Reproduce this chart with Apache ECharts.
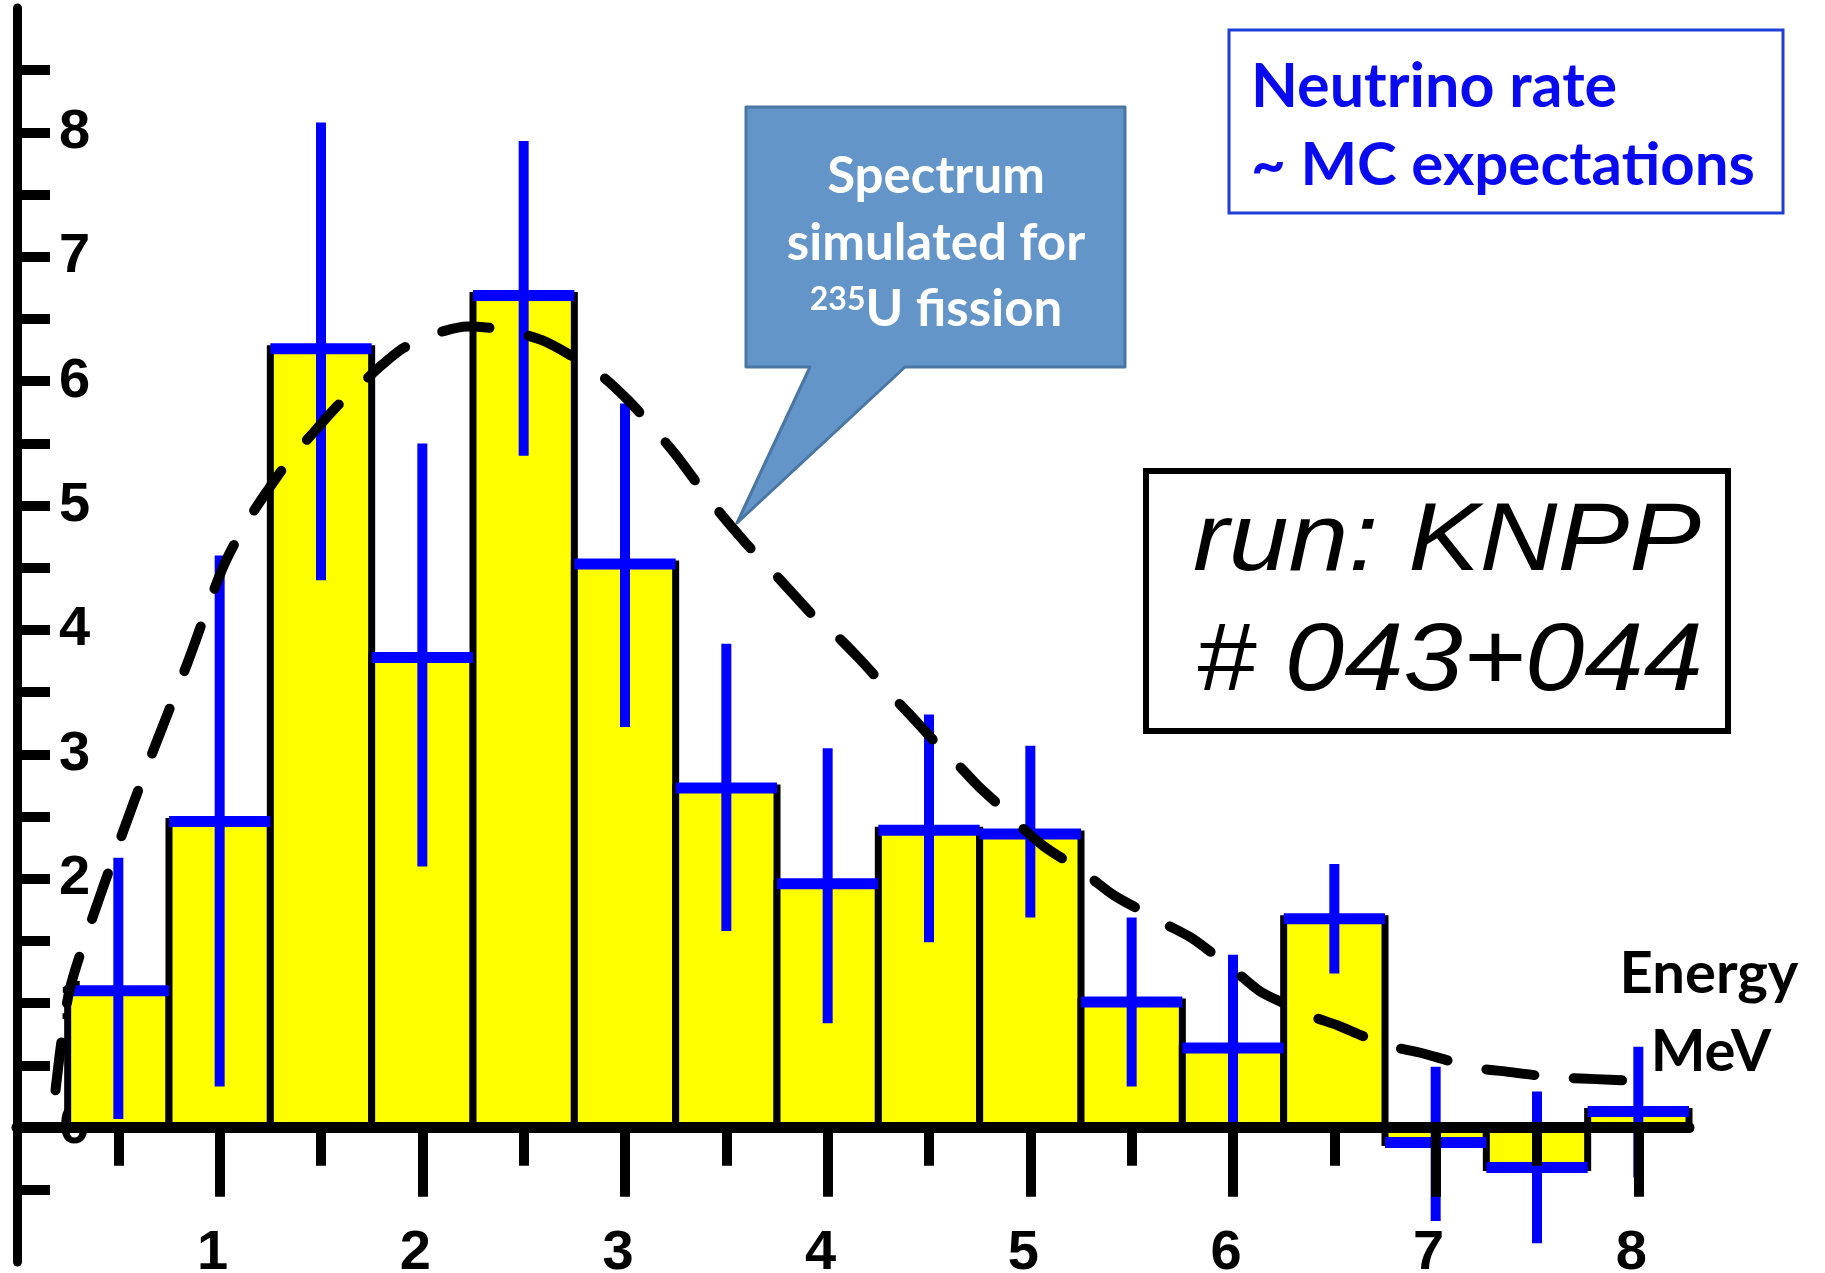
<!DOCTYPE html>
<html>
<head>
<meta charset="utf-8">
<script src="https://cdn.jsdelivr.net/npm/echarts@6/dist/echarts.min.js"></script>
<style>
  html, body { margin: 0; padding: 0; background: #ffffff; }
  #chart { width: 1825px; height: 1273px; }
</style>
</head>
<body>
<div id="chart"></div>
<script>
// Measured spectrum: 0.5 MeV bins, centre energy of each bin
const binCenters = [0.5, 1.0, 1.5, 2.0, 2.5, 3.0, 3.5, 4.0, 4.5, 5.0, 5.5, 6.0, 6.5, 7.0, 7.5, 8.0];
const rates      = [1.10, 2.46, 6.26, 3.78, 6.69, 4.53, 2.73, 1.96, 2.39, 2.36, 1.01, 0.64, 1.68, -0.12, -0.32, 0.13];
const errHigh    = [2.17, 4.60, 8.08, 5.50, 7.93, 5.82, 3.89, 3.05, 3.32, 3.07, 1.69, 1.39, 2.12, 0.49, 0.29, 0.65];
const errLow     = [0.07, 0.33, 4.40, 2.10, 5.40, 3.22, 1.58, 0.84, 1.49, 1.69, 0.33, 0.00, 1.24, -0.75, -0.93, -0.40];
const binHalfWidth = 0.25;

// Simulated 235U fission spectrum (dashed curve)
const mcEnergy = [0.19, 0.22, 0.26, 0.35, 0.49, 0.66, 0.84, 1.01, 1.12, 1.24, 1.35, 1.47, 1.58, 1.70, 1.80, 1.90,
                  2.00, 2.10, 2.22, 2.33, 2.44, 2.59, 2.73, 2.88, 3.02, 3.13, 3.25, 3.42, 3.59, 3.74, 3.88, 3.95,
                  4.04, 4.15, 4.24, 4.33, 4.44, 4.53, 4.63, 4.74, 4.84, 4.94, 5.06, 5.17, 5.28, 5.41, 5.53, 5.65,
                  5.79, 5.90, 6.01, 6.13, 6.25, 6.38, 6.52, 6.65, 6.79, 6.93, 7.06, 7.20, 7.35, 7.50, 7.65, 7.79,
                  7.93, 8.06];
const mcRate   = [0.30, 0.70, 1.11, 1.58, 2.23, 2.98, 3.73, 4.48, 4.83, 5.13, 5.38, 5.60, 5.80, 5.98, 6.13, 6.26,
                  6.34, 6.40, 6.44, 6.43, 6.40, 6.33, 6.21, 6.05, 5.84, 5.64, 5.41, 5.04, 4.71, 4.45, 4.20, 4.08,
                  3.96, 3.78, 3.62, 3.45, 3.26, 3.10, 2.94, 2.75, 2.60, 2.44, 2.27, 2.15, 2.03, 1.87, 1.76, 1.65,
                  1.53, 1.40, 1.26, 1.10, 1.00, 0.90, 0.82, 0.73, 0.65, 0.60, 0.54, 0.48, 0.45, 0.42, 0.40, 0.39,
                  0.38, 0.37];

// Axis ticks and labels
const xTickValues      = [1, 2, 3, 4, 5, 6, 7, 8];
const xMinorTickValues = [0.5, 1.5, 2.5, 3.5, 4.5, 5.5, 6.5, 7.5];
const yLabelValues     = [0, 1, 2, 3, 4, 5, 6, 7, 8];
const yTickValues      = [-0.5, 0, 0.5, 1, 1.5, 2, 2.5, 3, 3.5, 4, 4.5, 5, 5.5, 6, 6.5, 7, 7.5, 8, 8.5];

const chart = echarts.init(document.getElementById('chart'), null, { renderer: 'canvas' });

const tickFont = { fontFamily: 'Liberation Sans, Arial, sans-serif', fontSize: 56, fontWeight: 'bold', color: '#000' };
const calloutFont = 'Lato, "Open Sans", sans-serif';

chart.setOption({
  animation: false,
  backgroundColor: '#ffffff',
  grid: { left: 17, right: 136, top: 8, bottom: 11, containLabel: false, outerBoundsMode: 'none' },
  xAxis: [
    {
      type: 'value', min: 0, max: 8.25, position: 'bottom', z: 5,
      axisLine: { show: true, onZero: true, onZeroAxisIndex: 0, lineStyle: { color: '#000', width: 11 } },
      axisTick: { show: true, customValues: xTickValues, length: 69, lineStyle: { color: '#000', width: 10 } },
      // labels sit just above the lower edge of the plotting area
      axisLabel: Object.assign({
        show: true, customValues: xTickValues, margin: -8, verticalAlign: 'middle', lineHeight: 44,
        padding: [0, 14, 0, 0]
      }, tickFont),
      splitLine: { show: false }
    },
    {
      type: 'value', min: 0, max: 8.25, position: 'bottom', z: 5,
      axisLine: { show: false, onZero: true, onZeroAxisIndex: 0 },
      axisTick: { show: true, customValues: xMinorTickValues, length: 38, lineStyle: { color: '#000', width: 10 } },
      axisLabel: { show: false },
      splitLine: { show: false }
    }
  ],
  yAxis: {
    type: 'value', min: -1.08, max: 9.0, z: 0,
    axisLine: { show: true, onZero: false, lineStyle: { color: '#000', width: 9 } },
    axisTick: { show: true, inside: true, customValues: yTickValues, length: 33, lineStyle: { color: '#000', width: 10 } },
    axisLabel: Object.assign({ show: true, inside: true, customValues: yLabelValues, margin: 42 }, tickFont),
    splitLine: { show: false }
  },
  series: [
    {
      // histogram bins
      type: 'custom', z: 2,
      data: binCenters.map((c, i) => [c, rates[i]]),
      encode: { x: 0, y: 1 },
      renderItem: function (params, api) {
        const c = api.value(0), v = api.value(1);
        const a = api.coord([c - binHalfWidth, 0]);
        const b = api.coord([c + binHalfWidth, v]);
        return {
          type: 'rect',
          shape: { x: a[0], y: Math.min(a[1], b[1]), width: b[0] - a[0], height: Math.abs(b[1] - a[1]) },
          style: { fill: '#ffff00', stroke: '#000000', lineWidth: 7 }
        };
      }
    },
    {
      // statistical error crosses
      type: 'custom', z: 3,
      data: binCenters.map((c, i) => [c, rates[i], errLow[i], errHigh[i]]),
      encode: { x: 0, y: [1, 2, 3] },
      renderItem: function (params, api) {
        const c = api.value(0), v = api.value(1), lo = api.value(2), hi = api.value(3);
        const top = api.coord([c, hi]);
        const bot = api.coord([c, lo]);
        const left = api.coord([c - binHalfWidth, v]);
        const right = api.coord([c + binHalfWidth, v]);
        return {
          type: 'group',
          children: [
            { type: 'line', shape: { x1: top[0], y1: top[1], x2: bot[0], y2: bot[1] },
              style: { stroke: '#0000ff', lineWidth: 10 } },
            { type: 'line', shape: { x1: left[0], y1: left[1], x2: right[0], y2: right[1] },
              style: { stroke: '#0000ff', lineWidth: 11 } }
          ]
        };
      }
    },
    {
      // simulated spectrum
      type: 'line', z: 4,
      data: mcEnergy.map((e, i) => [e, mcRate[i]]),
      smooth: 0.3,
      showSymbol: false, symbol: 'none',
      lineStyle: { color: '#000000', width: 10, type: [48, 40], cap: 'round', join: 'round' }
    }
  ],
  graphic: [
    {
      // callout bubble pointing at the curve
      type: 'polygon', z: 6,
      shape: { points: [[746, 107], [1125, 107], [1125, 367], [905, 367], [737, 523], [810, 367], [746, 367]] },
      style: { fill: '#6395c9', stroke: '#4a76a3', lineWidth: 3, lineJoin: 'round' }
    },
    {
      type: 'text', z: 7, x: 936, y: 177,
      style: { text: 'Spectrum', fill: '#ffffff', fontFamily: calloutFont, fontWeight: 'bold', fontSize: 51, align: 'center', verticalAlign: 'middle' }
    },
    {
      type: 'text', z: 7, x: 936, y: 244,
      style: { text: 'simulated for', fill: '#ffffff', fontFamily: calloutFont, fontWeight: 'bold', fontSize: 51, align: 'center', verticalAlign: 'middle' }
    },
    {
      type: 'text', z: 7, x: 936, y: 310,
      style: {
        text: '{sup|235}{main|U fission}', align: 'center', verticalAlign: 'middle',
        rich: {
          sup:  { fill: '#ffffff', fontFamily: calloutFont, fontWeight: 'bold', fontSize: 32, lineHeight: 52, verticalAlign: 'top' },
          main: { fill: '#ffffff', fontFamily: calloutFont, fontWeight: 'bold', fontSize: 51, lineHeight: 52 }
        }
      }
    },
    {
      // headline box
      type: 'rect', z: 6,
      shape: { x: 1229, y: 30, width: 554, height: 183 },
      style: { fill: '#ffffff', stroke: '#1f3ed6', lineWidth: 3 }
    },
    {
      type: 'text', z: 7, x: 1251, y: 87,
      style: { text: 'Neutrino rate', fill: '#0a0aee', fontFamily: calloutFont, fontWeight: 'bold', fontSize: 61, align: 'left', verticalAlign: 'middle' }
    },
    {
      type: 'text', z: 7, x: 1251, y: 166,
      style: { text: '~ MC expectations', fill: '#0a0aee', fontFamily: calloutFont, fontWeight: 'bold', fontSize: 60, align: 'left', verticalAlign: 'middle' }
    },
    {
      // run identifier box
      type: 'rect', z: 6,
      shape: { x: 1146, y: 471, width: 582, height: 260 },
      style: { fill: '#ffffff', stroke: '#000000', lineWidth: 6 }
    },
    {
      type: 'text', z: 7, x: 1193, y: 543, scaleX: 1.12, originX: 0, originY: 0,
      style: { text: 'run: KNPP', fill: '#000000', fontFamily: 'Liberation Sans, Arial, sans-serif', fontStyle: 'italic', fontSize: 96, align: 'left', verticalAlign: 'middle' }
    },
    {
      type: 'text', z: 7, x: 1196, y: 663, scaleX: 1.11, originX: 0, originY: 0,
      style: { text: '# 043+044', fill: '#000000', fontFamily: 'Liberation Sans, Arial, sans-serif', fontStyle: 'italic', fontSize: 96, align: 'left', verticalAlign: 'middle' }
    },
    {
      // x-axis title
      type: 'text', z: 7, x: 1709, y: 974,
      style: { text: 'Energy', fill: '#000000', fontFamily: calloutFont, fontWeight: 'bold', fontSize: 58, align: 'center', verticalAlign: 'middle' }
    },
    {
      type: 'text', z: 7, x: 1711, y: 1052,
      style: { text: 'MeV', fill: '#000000', fontFamily: calloutFont, fontWeight: 'bold', fontSize: 58, align: 'center', verticalAlign: 'middle' }
    }
  ]
});
</script>
</body>
</html>
